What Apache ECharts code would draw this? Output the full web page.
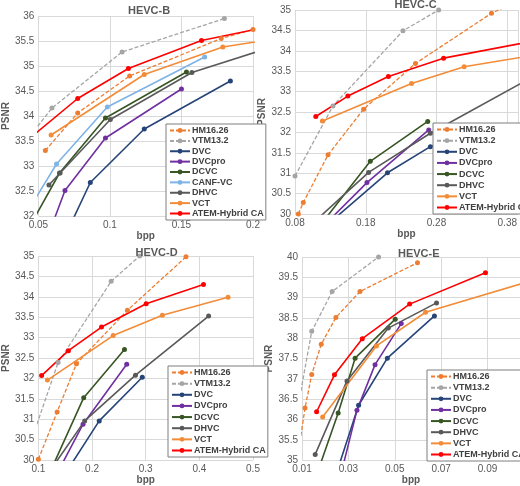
<!DOCTYPE html>
<html><head><meta charset="utf-8">
<script src="https://cdn.jsdelivr.net/npm/echarts@6/dist/echarts.min.js"></script>
<style>html,body{margin:0;padding:0;background:#fff}#c{width:520px;height:486px}</style>
</head><body><div id="c"></div>
<script>
const methods = ['HM16.26','VTM13.2','DVC','DVCpro','DCVC','CANF-VC','DHVC','VCT','ATEM-Hybrid CA'];
const colors = {'HM16.26':'#ED7D31','VTM13.2':'#A5A5A5','DVC':'#264478','DVCpro':'#7030A0','DCVC':'#375623','CANF-VC':'#7EB3E6','DHVC':'#595959','VCT':'#F28C38','ATEM-Hybrid CA':'#FF0000'};
const dashed = {'HM16.26':true,'VTM13.2':true};

// HEVC-B
const B_HM = [[0.0549,33.31],[0.0775,34.06],[0.1138,34.80],[0.1778,35.55],[0.2,35.73]];
const B_VTM = [[0.047,33.7],[0.0595,34.16],[0.1085,35.28],[0.18,35.95]];
const B_DVC = [[0.072,31.8],[0.0863,32.67],[0.124,33.74],[0.1842,34.70]];
const B_DVCpro = [[0.058,31.7],[0.0686,32.51],[0.0969,33.56],[0.15,34.54]];
const B_DCVC = [[0.048,32.0],[0.0648,32.86],[0.0969,33.96],[0.1535,34.88]];
const B_CANF = [[0.048,32.35],[0.0627,33.04],[0.0982,34.18],[0.1662,35.18]];
const B_DHVC = [[0.0574,32.62],[0.0652,32.86],[0.1003,33.93],[0.1573,34.87],[0.21,35.35]];
const B_VCT = [[0.0589,33.62],[0.124,34.83],[0.1789,35.38],[0.21,35.52]];
const B_ATEM = [[0.048,33.65],[0.0775,34.35],[0.1129,34.95],[0.164,35.51],[0.21,35.78]];
// HEVC-C
const C_HM = [[0.0847,30.0],[0.0917,30.28],[0.1267,31.45],[0.177,32.57],[0.2503,33.69],[0.3577,34.92],[0.38,35.1]];
const C_VTM = [[0.08,30.93],[0.1337,32.65],[0.2326,34.49],[0.283,35.0],[0.31,35.3]];
const C_DVC = [[0.13,29.8],[0.2107,31.01],[0.2713,31.65],[0.32,32.0]];
const C_DVCpro = [[0.12,29.7],[0.1817,30.77],[0.269,32.06]];
const C_DCVC = [[0.11,29.6],[0.1864,31.29],[0.2676,32.27]];
const C_DHVC = [[0.11,29.85],[0.184,31.02],[0.2713,31.98],[0.42,33.4]];
const C_VCT = [[0.1187,32.28],[0.2447,33.2],[0.319,33.61],[0.42,33.9]];
const C_ATEM = [[0.1094,32.39],[0.1547,32.89],[0.212,33.37],[0.29,33.82],[0.42,34.25]];
// HEVC-D
const D_HM = [[0.1,30.02],[0.135,31.18],[0.171,32.36],[0.266,33.67],[0.3751,34.98]];
const D_VTM = [[0.09,30.6],[0.1368,32.39],[0.2357,34.38],[0.2888,35.0],[0.3,35.1]];
const D_DVC = [[0.16,29.87],[0.2134,30.96],[0.2937,32.03]];
const D_DVCpro = [[0.14,29.8],[0.1833,30.88],[0.2647,32.35]];
const D_DCVC = [[0.125,29.8],[0.1845,31.53],[0.2605,32.71]];
const D_DHVC = [[0.125,29.8],[0.1863,30.96],[0.281,32.08],[0.4173,33.53]];
const D_VCT = [[0.1169,31.96],[0.2394,33.05],[0.331,33.55],[0.4535,33.99]];
const D_ATEM = [[0.106,32.07],[0.156,32.68],[0.2177,33.26],[0.3009,33.83],[0.4077,34.3]];
// HEVC-E
const E_HM = [[0.0095,35.6],[0.0113,36.28],[0.0142,37.11],[0.0183,37.85],[0.0246,38.51],[0.035,39.15],[0.0598,39.86]];
const E_VTM = [[0.0095,36.7],[0.0142,38.17],[0.023,39.15],[0.043,40.0],[0.05,40.3]];
const E_DVC = [[0.025,34.7],[0.0344,36.35],[0.0468,37.51],[0.0671,38.55]];
const E_DVCpro = [[0.027,34.7],[0.0337,36.23],[0.0415,37.35],[0.0528,38.36]];
const E_DCVC = [[0.017,34.75],[0.0256,36.16],[0.0329,37.51],[0.0502,38.47]];
const E_DHVC = [[0.0157,35.14],[0.0294,36.95],[0.0472,38.25],[0.068,38.87]];
const E_VCT = [[0.0189,36.06],[0.0421,37.81],[0.0633,38.64],[0.105,39.35]];
const E_ATEM = [[0.0163,36.19],[0.024,37.1],[0.036,37.99],[0.0564,38.84],[0.0891,39.61]];

const panels = [
 {title:'HEVC-B', grid:{left:17,top:16,width:236,height:200}, x:[0.05,0.2,0.05], y:[32,36,0.5],
  legend:{left:166,top:124}, data:{'HM16.26':B_HM,'VTM13.2':B_VTM,'DVC':B_DVC,'DVCpro':B_DVCpro,'DCVC':B_DCVC,'CANF-VC':B_CANF,'DHVC':B_DHVC,'VCT':B_VCT,'ATEM-Hybrid CA':B_ATEM}},
 {title:'HEVC-C', grid:{left:295,top:10,width:225,height:204}, x:[0.08,0.395,0.1], y:[30,35,0.5],
  legend:{left:433,top:123}, data:{'HM16.26':C_HM,'VTM13.2':C_VTM,'DVC':C_DVC,'DVCpro':C_DVCpro,'DCVC':C_DCVC,'DHVC':C_DHVC,'VCT':C_VCT,'ATEM-Hybrid CA':C_ATEM}},
 {title:'HEVC-D', grid:{left:32,top:256,width:221,height:207}, x:[0.1,0.5,0.1], y:[30,35,0.5],
  legend:{left:168,top:366}, data:{'HM16.26':D_HM,'VTM13.2':D_VTM,'DVC':D_DVC,'DVCpro':D_DVCpro,'DCVC':D_DCVC,'DHVC':D_DHVC,'VCT':D_VCT,'ATEM-Hybrid CA':D_ATEM}},
 {title:'HEVC-E', grid:{left:302,top:257,width:218,height:207}, x:[0.01,0.104,0.02], y:[35,40,0.5],
  legend:{left:427,top:370}, data:{'HM16.26':E_HM,'VTM13.2':E_VTM,'DVC':E_DVC,'DVCpro':E_DVCpro,'DCVC':E_DCVC,'DHVC':E_DHVC,'VCT':E_VCT,'ATEM-Hybrid CA':E_ATEM}}
];

const fmt = v => String(parseFloat(v.toFixed(3)));
const opt = {animation:false, title:[], grid:[], xAxis:[], yAxis:[], legend:[], series:[]};
panels.forEach((p,i)=>{
  const g=p.grid;
  opt.title.push({text:p.title,left:g.left+g.width/2-(i%2?18:12),top:g.top-(i<2?16:14),textStyle:{fontSize:11,fontWeight:'bold',color:'#595959',fontFamily:'Liberation Sans'}});
  opt.grid.push(Object.assign({containLabel:false},g));
  opt.xAxis.push({type:'value',gridIndex:i,min:p.x[0],max:p.x[1],interval:p.x[2],name:'bpp',nameLocation:'middle',nameGap:14,
    nameTextStyle:{fontSize:10,fontWeight:'bold',color:'#595959'},
    axisLine:{show:false},axisTick:{show:false},
    axisLabel:{fontSize:10,color:'#595959',margin:4,formatter:fmt,showMaxLabel:(i===0||i===2)},
    splitLine:{lineStyle:{color:'#D9D9D9'}}});
  opt.yAxis.push({type:'value',gridIndex:i,min:p.y[0],max:p.y[1],interval:p.y[2],name:'PSNR',nameLocation:'middle',nameGap:i===0?12:24,
    nameTextStyle:{fontSize:10,fontWeight:'bold',color:'#595959'},
    axisLine:{show:false},axisTick:{show:false},
    axisLabel:{fontSize:10,color:'#595959',margin:4,formatter:fmt},
    splitLine:{lineStyle:{color:'#D9D9D9'}}});
  const names = Object.keys(p.data);
  const h = i===0?96:91;
  opt.legend.push({orient:'vertical',left:p.legend.left,top:p.legend.top,data:names,
    backgroundColor:'#fff',borderColor:'#7F7F7F',borderWidth:1,padding:[2,2,2,3],
    itemWidth:20,itemHeight:6,itemGap:(h-names.length*9-4)/(names.length-1),
    textStyle:{fontSize:9,fontWeight:'bold',color:'#404040',padding:[0,0,0,-3]}});
  names.forEach(n=>{
    opt.series.push({type:'line',name:n,xAxisIndex:i,yAxisIndex:i,data:p.data[n],clip:true,
      symbol:'circle',symbolSize:5,color:colors[n],
      lineStyle:{width:dashed[n]?1.3:1.6,type:dashed[n]?[4,2]:'solid',color:colors[n]},
      itemStyle:{color:colors[n]}});
  });
});
echarts.init(document.getElementById('c'),null,{renderer:'canvas'}).setOption(opt);
</script></body></html>
